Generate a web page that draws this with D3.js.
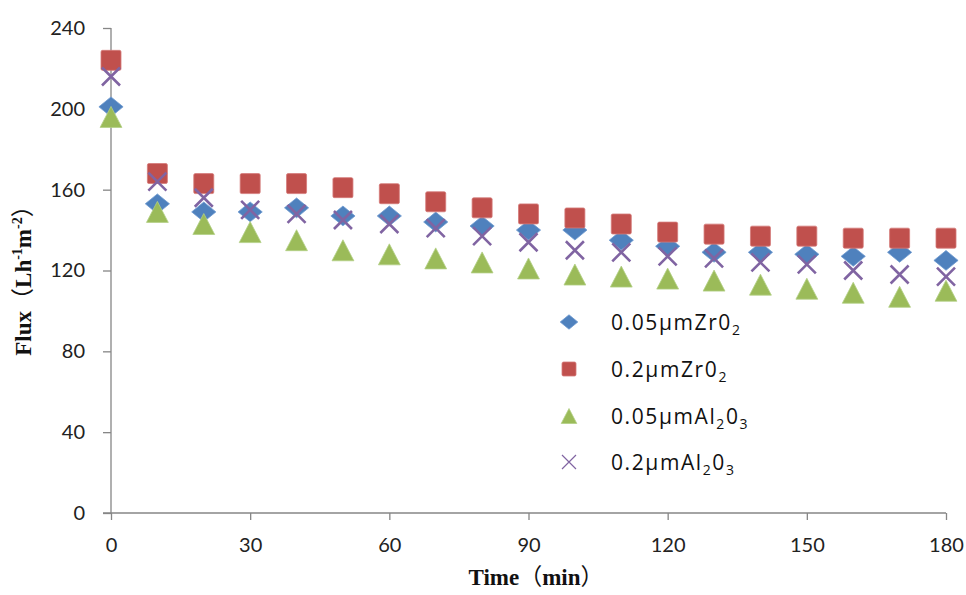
<!DOCTYPE html>
<html><head><meta charset="utf-8">
<script src="https://cdn.jsdelivr.net/npm/d3@7"></script>
<style>
body{margin:0;background:#fff;}
svg{display:block;}
</style></head>
<body><svg id="c" width="966" height="595"></svg>
<script>
const times = [0,10,20,30,40,50,60,70,80,90,100,110,120,130,140,150,160,170,180];
const zr005 = [201,153,149,149,151,147,147,144,142,140,140,135,132,129,129,128,127,129,125];
const zr02  = [224,168,163,163,163,161,158,154,151,148,146,143,139,138,137,137,136,136,136];
const al005 = [196,149,143,139,135,130,128,126,124,121,118,117,116,115,113,111,109,107,110];
const al02  = [216,164,156,150,148,145,143,141,137,134,130,129,127,126,124,123,120,118,117];
const seriesNames = ["0.05μmZr0", "0.2μmZr0", "0.05μmAl", "0.2μmAl"];
const xTicks = [0,30,60,90,120,150,180];
const yTicks = [0,40,80,120,160,200,240];

const svg = d3.select("#c");
const x = d3.scaleLinear().domain([0,180]).range([111,946]);
const y = d3.scaleLinear().domain([0,240]).range([513,28]);
const axisColor = "#868686";
const tickFont = "Lato,'Open Sans','Liberation Sans',sans-serif";
const legFont = "'Open Sans','Liberation Sans',sans-serif";

// axes
const yAx = svg.append("g").attr("transform","translate(111,0)")
  .call(d3.axisLeft(y).tickValues(yTicks).tickSize(8).tickPadding(18));
yAx.select(".domain").attr("stroke",axisColor).attr("stroke-width",1.3).attr("d","M0,28V513");
yAx.selectAll(".tick line").attr("stroke",axisColor).attr("stroke-width",1.3);
yAx.selectAll(".tick text").attr("font-family",tickFont).attr("font-size",20).attr("fill","#222");

const xAx = svg.append("g").attr("transform","translate(0,513)")
  .call(d3.axisBottom(x).tickValues(xTicks).tickSize(7).tickPadding(18));
xAx.select(".domain").attr("stroke",axisColor).attr("stroke-width",1.3).attr("d","M103,0H946");
xAx.selectAll(".tick line").attr("stroke",axisColor).attr("stroke-width",1.3);
xAx.selectAll(".tick text").attr("font-family",tickFont).attr("font-size",20).attr("fill","#222");

// marker drawing
const colors = {blue:"#4F81BD", red:"#C0504D", green:"#9BBB59", purple:"#8064A2"};
function diamond(g, cx, cy, s){
  g.append("path").attr("d",`M${cx},${cy-s*0.45}L${cx+s*0.55},${cy}L${cx},${cy+s*0.45}L${cx-s*0.55},${cy}Z`)
    .attr("fill",colors.blue).attr("stroke","#6f9ad0").attr("stroke-width",0.8);
}
function square(g, cx, cy, s){
  g.append("rect").attr("x",cx-s/2).attr("y",cy-s/2).attr("width",s).attr("height",s).attr("rx",1.5)
    .attr("fill",colors.red).attr("stroke","#d47a78").attr("stroke-width",0.8);
}
function triangle(g, cx, cy, s){
  g.append("path").attr("d",`M${cx},${cy-s*0.5}L${cx+s*0.52},${cy+s*0.5}L${cx-s*0.52},${cy+s*0.5}Z`)
    .attr("fill",colors.green).attr("stroke","#b3cf85").attr("stroke-width",0.8);
}
function cross(g, cx, cy, s, w){
  const h = s/2;
  g.append("path").attr("d",`M${cx-h},${cy-h}L${cx+h},${cy+h}M${cx-h},${cy+h}L${cx+h},${cy-h}`)
    .attr("stroke",colors.purple).attr("stroke-width",w).attr("fill","none");
}

const plot = svg.append("g");
const gA = plot.append("g"), gB = plot.append("g"), gC = plot.append("g"), gD = plot.append("g");
times.forEach((t,i)=>{
  diamond(gA, x(t), y(zr005[i]), 22);
  square(gB, x(t), y(zr02[i]), 20);
  triangle(gC, x(t), y(al005[i]), 21);
  cross(gD, x(t), y(al02[i]), 18, 2.6);
});

// legend
const leg = svg.append("g");
const legY = [322,369,416,462];
diamond(leg, 569, legY[0], 16);
square(leg, 569, legY[1], 14);
triangle(leg, 569, legY[2], 15);
cross(leg, 569, legY[3], 14, 1.2);
seriesNames.forEach((n,i)=>{
  const t = leg.append("text").attr("x",611).attr("y",legY[i]+8)
    .attr("font-family",legFont).attr("font-size",21).attr("letter-spacing",1.6).attr("fill","#111");
  t.append("tspan").text(n);
  t.append("tspan").text("2").attr("font-size",14).attr("dy",5);
  if(i>=2){
    t.append("tspan").text("0").attr("dy",-5);
    t.append("tspan").text("3").attr("font-size",14).attr("dy",5);
  }
});

// axis titles
const titleFont = "'Liberation Serif','Times New Roman',serif";
const cjk = "'Noto Sans CJK SC',sans-serif";
const yt = svg.append("text").attr("transform","translate(31,275) rotate(-90)")
  .attr("text-anchor","middle").attr("font-family",titleFont).attr("font-weight","bold")
  .attr("font-size",23).attr("fill","#111");
yt.append("tspan").text("Flux");
yt.append("tspan").text("（").attr("font-family",cjk).attr("font-weight","normal");
yt.append("tspan").text("Lh");
yt.append("tspan").text("-1").attr("font-size",14).attr("dy",-9);
yt.append("tspan").text("m").attr("dy",9);
yt.append("tspan").text("-2").attr("font-size",14).attr("dy",-9);
yt.append("tspan").text("）").attr("dy",9).attr("font-family",cjk).attr("font-weight","normal");

const xt = svg.append("text").attr("x",536).attr("y",585).attr("text-anchor","middle")
  .attr("font-family",titleFont).attr("font-weight","bold").attr("font-size",23).attr("fill","#111");
xt.append("tspan").text("Time");
xt.append("tspan").text("（").attr("font-family",cjk).attr("font-weight","normal");
xt.append("tspan").text("min");
xt.append("tspan").text("）").attr("font-family",cjk).attr("font-weight","normal");
</script>
</body></html>
